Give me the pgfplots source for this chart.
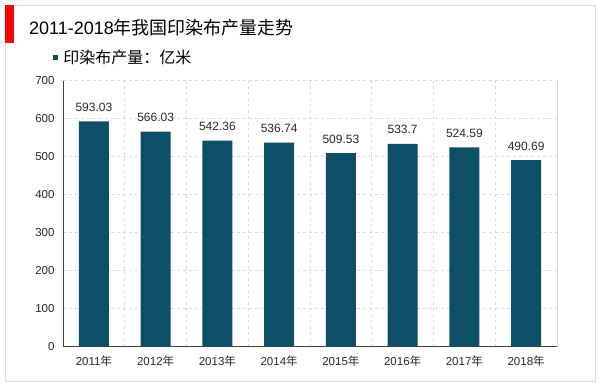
\documentclass[border=0pt]{standalone}
\usepackage{pgfplots}
\pgfplotsset{compat=1.18}
\usepackage{fontspec}
\setmainfont{Liberation Sans}
\newfontfamily\cjk{Noto Sans CJK SC}
\definecolor{barc}{RGB}{13,79,103}
\definecolor{gridc}{RGB}{217,217,217}
\definecolor{framec}{RGB}{222,222,222}
\definecolor{txt}{RGB}{40,40,40}
\begin{document}
\begin{tikzpicture}[x=1pt,y=1pt]
\path[use as bounding box] (0,0) rectangle (600,386);
\draw[framec, line width=0.8pt] (5,5) rectangle (595,381);
\fill[red] (5,343) rectangle (14,381);
\node[anchor=base west, font=\fontsize{18}{20}\selectfont, inner sep=0, text=black] at (29,351) {2011-2018{\cjk 年我国印染布产量走势}};
\begin{axis}[
  at={(63pt,39.3pt)}, anchor=south west,
  scale only axis, width=494pt, height=266pt,
  ybar, bar width=30pt,
  xmin=-0.5, xmax=7.5, ymin=0, ymax=700,
  ytick={0,100,...,700},
  xtick={0,...,7},
  xticklabels={2011{\cjk 年},2012{\cjk 年},2013{\cjk 年},2014{\cjk 年},2015{\cjk 年},2016{\cjk 年},2017{\cjk 年},2018{\cjk 年}},
  minor xtick={0.5,1.5,...,6.5},
  ymajorgrids, xminorgrids,
  major grid style={gridc, dashed, line width=0.6pt},
  minor grid style={gridc, dashed, line width=0.6pt},
  axis x line*=bottom, axis y line*=left,
  axis line style={black!75, line width=0.9pt, -},
  major tick length=0pt, minor tick length=0pt,
  tick label style={font=\fontsize{11.5}{13}\selectfont, text=txt},
  /pgf/number format/assume math mode=true,
  xticklabel style={yshift=-6pt},
  yticklabel style={xshift=-5pt},
  point meta=explicit symbolic,
  nodes near coords,
  every node near coord/.append style={font=\fontsize{12}{14}\selectfont, text=txt, anchor=base, yshift=10pt, inner sep=0},
  legend style={at={(-0.02,1.087)}, anchor=west, draw=none, fill=none, font=\fontsize{16}{18}\selectfont, inner sep=0pt, legend cell align=left},
  legend image code/.code={\fill[barc] (0pt,-2.5pt) rectangle (5pt,2.5pt);},
  clip=false,
]
\addplot[fill=barc, draw=none] table[x=x, y=y, meta=lab] {
x y lab
0 593.03 593.03
1 566.03 566.03
2 542.36 542.36
3 536.74 536.74
4 509.53 509.53
5 533.7 533.7
6 524.59 524.59
7 490.69 490.69
};
\addlegendentry{\hspace{3pt}{\cjk 印染布产量：亿米}}
\draw[gridc, line width=0.8pt] (rel axis cs:1,0) -- (rel axis cs:1,1);
\end{axis}
\end{tikzpicture}
\end{document}
